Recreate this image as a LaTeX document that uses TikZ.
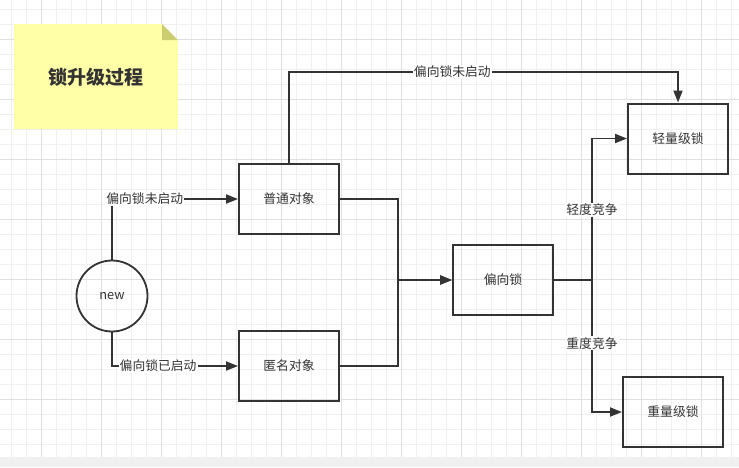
\documentclass[tikz,border=0pt]{standalone}
\usepackage{fontspec}
\setmainfont{Noto Sans CJK SC}
\usetikzlibrary{arrows.meta}
\definecolor{gridminor}{HTML}{F0F0F0}
\definecolor{gridmajor}{HTML}{E0E0E0}
\definecolor{notefill}{HTML}{FFFFA8}
\definecolor{notefold}{HTML}{CCCC70}
\definecolor{ink}{HTML}{333333}
\tikzset{
    box/.style={draw=ink, line width=2pt, minimum width=100pt, minimum height=70pt, inner sep=0pt, text=ink},
    flow/.style={draw=ink, line width=1.8pt, -{Triangle[length=12pt,width=9pt]}},
    tag/.style={fill=white, inner sep=1pt, text=ink}
}
\begin{document}
\begin{tikzpicture}[x=1pt, y=-1pt, font=\fontsize{12.8}{15}\selectfont]
    \useasboundingbox (0,0) rectangle (739,467);
    \fill[white] (0,0) rectangle (739,467);

    % grid
    \foreach \i in {0,...,49} {
        \draw[gridminor, line width=0.8pt] ({11.7+15*\i},0) -- ({11.7+15*\i},457);
    }
    \foreach \i in {0,...,30} {
        \draw[gridminor, line width=0.8pt] (0,{9.3+15*\i}) -- (739,{9.3+15*\i});
    }
    \foreach \i in {0,...,12} {
        \draw[gridmajor, line width=0.8pt] ({41.7+60*\i},0) -- ({41.7+60*\i},457);
    }
    \foreach \i in {0,...,7} {
        \draw[gridmajor, line width=0.8pt] (0,{39.3+60*\i}) -- (739,{39.3+60*\i});
    }
    \fill[gridminor] (0,457) rectangle (739,467);

    % note
    \fill[notefill] (14,24) -- (162,24) -- (178,40) -- (178,129) -- (14,129) -- cycle;
    \fill[notefold] (162,24) -- (178,40) -- (162,40) -- cycle;
    \node[text=ink, font=\fontsize{19}{22}\selectfont\bfseries] (title) at (96,77) {锁升级过程};

    \node[draw=ink, line width=1.8pt, circle, minimum size=71pt, inner sep=0pt, text=ink] (new) at (112,296) {new};

    \node[box] (plain) at (289,199) {普通对象};
    \node[box] (anon) at (289,366) {匿名对象};
    \node[box] (biased) at (503,280) {偏向锁};
    \node[box] (light) at (678,138.5) {轻量级锁};
    \node[box] (heavy) at (673,412) {重量级锁};

    \path[flow] (new.north) |- node[tag, pos=0.63] {偏向锁未启动} (plain.west);
    \path[flow] (new.south) |- node[tag, pos=0.683] {偏向锁已启动} (anon.west);

    \path[flow] (plain.east) -- ++(58,0) |- (biased.west);
    \path[flow] (anon.east) -- ++(58,0) |- (biased.west);

    \path[flow] (plain.north) -- ++(0,-91) -| node[tag, pos=0.21] {偏向锁未启动} (light.north);

    \path[flow] (biased.east) -- ++(38,0) |- node[tag, pos=0.248] {轻度竞争} (light.west);
    \path[flow] (biased.east) -- ++(38,0) |- node[tag, pos=0.24] {重度竞争} (heavy.west);
\end{tikzpicture}
\end{document}
